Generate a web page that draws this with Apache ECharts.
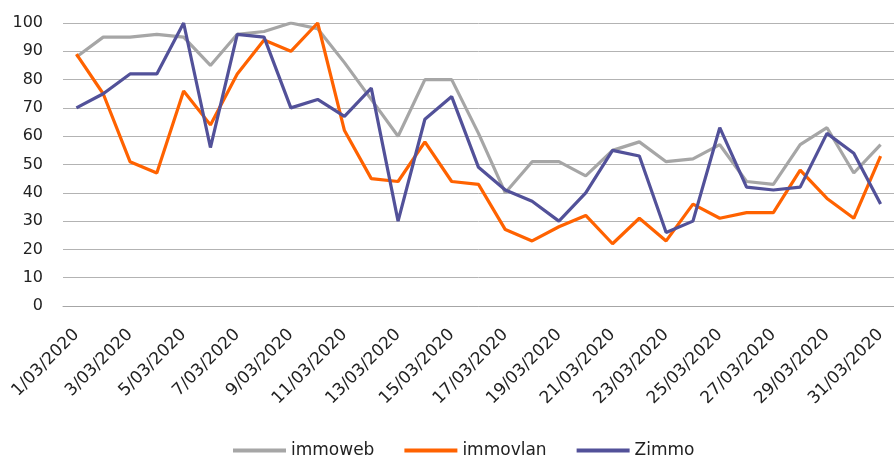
<!DOCTYPE html>
<html>
<head>
<meta charset="utf-8">
<script src="https://cdn.jsdelivr.net/npm/echarts@6/dist/echarts.min.js"></script>
<style>html,body{margin:0;padding:0;background:#fff}#c{width:894px;height:457px}</style>
</head>
<body>
<div id="c"></div>
<script>
var categories = [];
for (var d = 1; d <= 31; d++) categories.push(d + '/03/2020');
var immoweb  = [88,95,95,96,95,85,96,97,100,98,86,73,60,80,80,61,40,51,51,46,55,58,51,52,57,44,43,57,63,47,57];
var immovlan = [89,75,51,47,76,64,82,94,90,100,62,45,44,58,44,43,27,23,28,32,22,31,23,36,31,33,33,48,38,31,53];
var zimmo    = [70,75,82,82,100,56,96,95,70,73,67,77,30,66,74,49,41,37,30,40,55,53,26,30,63,42,41,42,61,54,36];
var yTicks = [0,10,20,30,40,50,60,70,80,90,100];

var font = 'DejaVu Sans';
function line(name, data, color) {
  return {name: name, type: 'line', data: data, symbol: 'none', showSymbol: false,
    lineStyle: {color: color, width: 3.2}, itemStyle: {color: color}, animation: false};
}
var chart = echarts.init(document.getElementById('c'));
chart.setOption({
  animation: false,
  grid: {left: 63, right: -11, top: 23, bottom: 151, containLabel: false},
  legend: {
    left: 228, top: 437, icon: 'rect', itemWidth: 53, itemHeight: 4, itemGap: 30,
    textStyle: {fontFamily: font, fontSize: 17, color: '#222'},
    data: ['immoweb', 'immovlan', 'Zimmo']
  },
  xAxis: {
    type: 'category', data: categories, boundaryGap: true,
    axisLine: {lineStyle: {color: '#a6a6a6', width: 1}},
    axisTick: {interval: 1, length: 7, lineStyle: {color: '#a6a6a6'}},
    axisLabel: {interval: 1, rotate: 45, margin: 26, fontFamily: font, fontSize: 17, color: '#222'}
  },
  yAxis: {
    type: 'value', min: yTicks[0], max: yTicks[yTicks.length - 1], interval: 10,
    axisLine: {show: false}, axisTick: {show: false},
    splitLine: {lineStyle: {color: '#b3b3b3', width: 1}},
    axisLabel: {margin: 20, fontFamily: font, fontSize: 16, color: '#222'}
  },
  series: [
    line('immoweb', immoweb, '#a6a6a6'),
    line('immovlan', immovlan, '#ff6200'),
    line('Zimmo', zimmo, '#525199')
  ]
});
</script>
</body>
</html>
